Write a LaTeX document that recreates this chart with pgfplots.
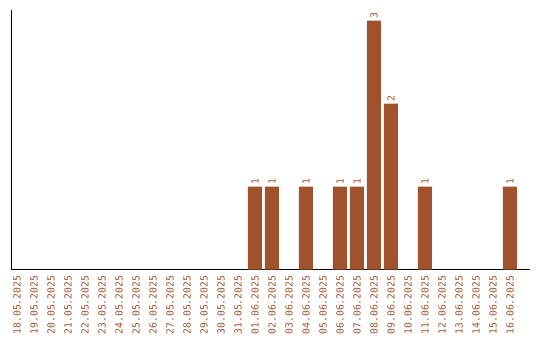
\documentclass[border=0pt]{standalone}
\usepackage{pgfplots}
\pgfplotsset{compat=1.18}
\usepackage{fontspec}
\setmainfont{DejaVu Sans Mono}
\definecolor{barc}{HTML}{A0522D}
\begin{document}
\begin{tikzpicture}
\begin{axis}[
  /pgf/number format/assume math mode=true,
  scale only axis,
  width=519bp, height=259.5bp,
  xmin=-0.35, xmax=30.18,
  ymin=0, ymax=3.127,
  axis x line*=bottom, axis y line*=left,
  axis line style={black, line width=0.8pt, -},
  ytick=\empty,
  xtick={0,...,29},
  xticklabels={18.05.2025,19.05.2025,20.05.2025,21.05.2025,22.05.2025,23.05.2025,24.05.2025,25.05.2025,26.05.2025,27.05.2025,28.05.2025,29.05.2025,30.05.2025,31.05.2025,01.06.2025,02.06.2025,03.06.2025,04.06.2025,05.06.2025,06.06.2025,07.06.2025,08.06.2025,09.06.2025,10.06.2025,11.06.2025,12.06.2025,13.06.2025,14.06.2025,15.06.2025,16.06.2025},
  xticklabel style={yshift=-6bp, rotate=90, anchor=east, text=barc, font=\fontsize{9.8}{10}\selectfont, inner sep=0pt},
  major tick length=0pt,
  xtick style={draw=none},
  ybar, bar width=14bp,
  nodes near coords,
  every node near coord/.style={font=\fontsize{9.8}{10}\selectfont, rotate=90, anchor=west, text=barc, inner sep=1.5pt},
  clip=false,
]
\addplot[fill=barc, draw=none, bar shift=0pt] coordinates {
(14,1) (15,1) (17,1) (19,1) (20,1) (21,3) (22,2) (24,1) (29,1)
};
\end{axis}
\useasboundingbox (current axis.south west) ++(-11bp,-70.5bp) rectangle ++(540bp,340bp);
\end{tikzpicture}
\end{document}
